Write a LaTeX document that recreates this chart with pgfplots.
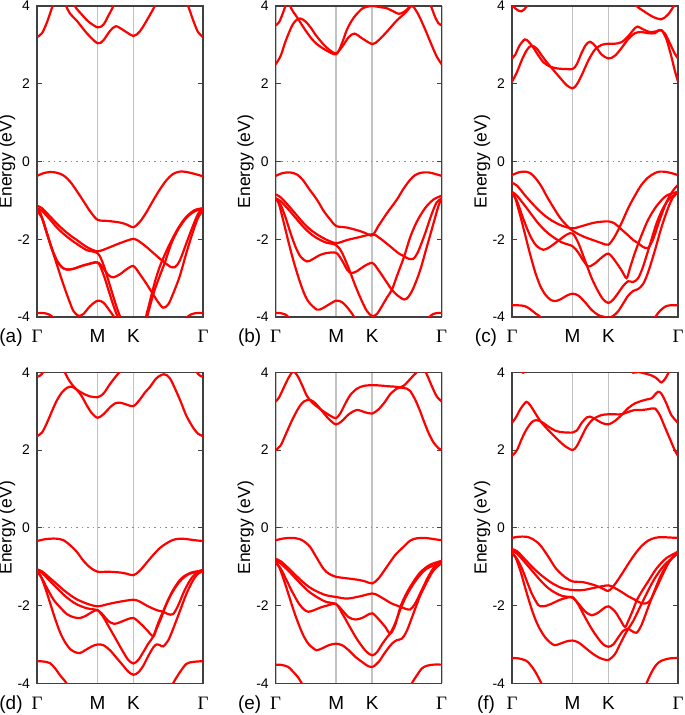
\documentclass[border=0pt]{standalone}
\usepackage{fontspec}
\setmainfont{Liberation Sans}
\newfontfamily\greekfont{Liberation Serif}
\usepackage{pgfplots}
\pgfplotsset{compat=1.18}

\definecolor{bandred}{RGB}{255,0,0}
\definecolor{symline}{RGB}{195,195,195}

\pgfplotsset{
  bands/.style={
    scale only axis, width=83bp, height=155.5bp, anchor=south west,
    xmin=0, xmax=100, ymin=-4, ymax=4,
    xtick={0,36.5,58.1,100},
    xticklabels={{\greekfont Γ},M,K,{\greekfont Γ}},
    ytick={-4,-2,0,2,4},
    tick align=inside,
    major tick length=2.5bp,
    major x tick style={draw=none},
    tick style={black!75, line width=0.5bp},
    xmajorgrids,
    major grid style={symline, line width=0.8bp},
    extra y ticks={0},
    extra y tick labels={},
    extra y tick style={ymajorgrids=true, major grid style={black!45, dotted, line width=0.4bp}},
    axis line style={black!75, line width=0.55bp},
    xticklabel style={font=\fontsize{9.5}{11}\selectfont, anchor=base, yshift=-13bp},
    yticklabel style={font=\fontsize{7}{8}\selectfont},
    /pgf/number format/assume math mode=true,
  },
  bd/.style={bandred, line width=1.1bp, smooth},
}

\newcommand\panellabels[2]{%
  \node[rotate=90, font=\fontsize{8.8}{10}\selectfont] at ([xshift=-15bp]#1.west) {Energy (eV)};
  \node[anchor=base, font=\fontsize{9.5}{11}\selectfont] at ([xshift=-13bp,yshift=-13bp]#1.south west) {#2};
}

\begin{document}
\begin{tikzpicture}

% ---------------- (a)
\begin{axis}[bands, name=pa, at={(18.5bp,199bp)}]
\addplot[bd] coordinates {(0,3.2)(3,3.3)(6,3.58)(9,3.95)(12,4.3)(14.5,4.4)(17,4.05)(20,3.8)(24,3.62)(30,3.3)(36.5,3.04)(40,3.12)(44,3.36)(47.5,3.48)(52,3.38)(58.1,3.23)(62,3.35)(66,3.62)(70,3.92)(74,4.25)(80,4.6)(86,4.4)(91,4.0)(94,3.64)(97,3.33)(100,3.2)};
\addplot[bd] coordinates {(14,5.0)(19,4.4)(22.8,4.0)(27,3.78)(31,3.6)(36.5,3.45)(40,3.52)(43,3.75)(46,4.0)(50,4.4)(54,4.8)};
\addplot[bd] coordinates {(0,-0.37)(4,-0.3)(8,-0.27)(12,-0.29)(16,-0.36)(20,-0.52)(24,-0.76)(28,-1.02)(32,-1.28)(36.5,-1.5)(43,-1.53)(50,-1.57)(54,-1.62)(58.1,-1.69)(62,-1.55)(66,-1.3)(70,-1.0)(74,-0.72)(78,-0.48)(82,-0.32)(86,-0.26)(90,-0.27)(95,-0.32)(100,-0.38)};
\addplot[bd] coordinates {(0,-1.14)(3,-1.2)(8,-1.42)(12,-1.6)(16,-1.76)(20,-1.9)(24,-2.02)(30,-2.2)(36.5,-2.31)(43,-2.22)(50,-2.1)(58.1,-1.99)(62,-2.07)(66,-2.2)(70,-2.35)(74,-2.5)(77,-2.6)(80,-2.7)(83,-2.72)(86,-2.55)(90,-2.1)(94,-1.65)(97,-1.35)(100,-1.2)};
\addplot[bd] coordinates {(0,-1.2)(3,-1.27)(8,-1.5)(12,-1.7)(16,-1.86)(20,-2.0)(24,-2.12)(30,-2.28)(36.5,-2.36)(40,-2.65)(44,-3.2)(48,-3.75)(51,-4.1)(55,-4.6)(58.1,-4.8)(62,-4.6)(65,-4.1)(68,-3.6)(71,-3.1)(74,-2.7)(78,-2.3)(82,-1.95)(86,-1.65)(90,-1.42)(95,-1.25)(100,-1.2)};
\addplot[bd] coordinates {(0,-1.26)(3,-1.45)(6,-1.85)(9,-2.25)(12,-2.55)(15,-2.72)(18,-2.78)(22,-2.76)(26,-2.7)(30,-2.65)(36.5,-2.6)(40,-2.75)(43,-2.92)(46,-2.98)(50,-2.9)(54,-2.77)(58.1,-2.69)(62,-2.9)(66,-3.15)(70,-3.42)(73,-3.62)(76,-3.76)(79,-3.68)(82,-3.4)(86,-2.95)(90,-2.35)(94,-1.8)(97,-1.45)(100,-1.26)};
\addplot[bd] coordinates {(0,-1.26)(3,-1.45)(6,-1.85)(9,-2.25)(12,-2.55)(15,-2.72)(18,-2.78)(22,-2.76)(26,-2.7)(30,-2.65)(36.5,-2.6)(40,-2.9)(43,-3.3)(46,-3.7)(49,-4.05)(53,-4.5)(58.1,-4.9)(62,-4.6)(66,-4.05)(70,-3.42)(73,-3.05)(77,-2.6)(81,-2.1)(85,-1.75)(90,-1.45)(95,-1.28)(100,-1.22)};
\addplot[bd] coordinates {(0,-1.2)(2,-1.32)(5,-1.72)(8,-2.12)(11,-2.52)(14,-2.92)(17,-3.3)(20,-3.65)(22,-3.85)(25,-3.97)(28,-3.92)(32,-3.72)(36.5,-3.58)(40,-3.63)(44,-3.85)(48,-4.1)(52,-4.4)};
\addplot[bd] coordinates {(0,-3.9)(4,-3.9)(7,-3.93)(10,-4.02)(13,-4.2)(16,-4.45)};
\addplot[bd] coordinates {(84,-4.45)(87,-4.2)(90,-4.02)(93,-3.93)(96,-3.9)(100,-3.9)};
\end{axis}
\panellabels{pa}{(a)}

% ---------------- (b)
\begin{axis}[bands, name=pb, at={(137.85bp,199bp)}]
\addplot[bd] coordinates {(0,2.5)(3,2.72)(6,3.1)(9.7,3.48)(12,3.62)(14.7,3.68)(18,3.6)(21,3.45)(24,3.26)(27,3.1)(30,2.96)(33,2.85)(36.4,2.78)(40,2.95)(44,3.2)(47.5,3.29)(52,3.17)(58.2,3.02)(62,3.12)(67,3.34)(73,3.63)(78,3.82)(82,4.0)(85,3.85)(87.5,3.64)(90.5,3.35)(93.5,3.04)(97,2.7)(100,2.5)};
\addplot[bd] coordinates {(5,4.6)(8.7,4.0)(12.7,3.72)(16,3.5)(18.8,3.32)(22,3.14)(24.8,3.02)(30,2.87)(36.4,2.76)(40,3.05)(43,3.4)(47,3.7)(52,3.93)(55,3.98)(58.2,4.0)(63,3.97)(67,3.94)(71,3.86)(74,3.8)(77,3.84)(80,3.95)(83,4.1)(86,4.35)};
\addplot[bd] coordinates {(0,3.5)(2,3.58)(4,3.78)(6,4.02)(8,4.3)};
\addplot[bd] coordinates {(90,4.35)(93.5,4.0)(96,3.72)(98,3.56)(100,3.5)};
\addplot[bd] coordinates {(0,-0.37)(4,-0.3)(8.7,-0.28)(13,-0.34)(16.8,-0.5)(20,-0.7)(24.8,-0.98)(29,-1.28)(33,-1.5)(36.4,-1.66)(43,-1.7)(50,-1.78)(54,-1.84)(58.2,-1.9)(62,-1.65)(67,-1.33)(73,-0.98)(77,-0.7)(81,-0.47)(84,-0.35)(87.5,-0.29)(92,-0.28)(96,-0.32)(100,-0.37)};
\addplot[bd] coordinates {(0,-0.85)(3,-0.92)(8,-1.15)(12,-1.35)(16,-1.55)(20,-1.72)(24,-1.85)(30,-2.0)(36.4,-2.1)(43,-2.02)(50,-1.95)(58.2,-1.87)(62,-1.95)(66,-2.08)(70,-2.22)(74,-2.36)(77.4,-2.44)(80,-2.5)(83,-2.5)(86,-2.3)(90,-1.85)(94,-1.35)(97,-1.05)(100,-0.95)};
\addplot[bd] coordinates {(0,-0.95)(3,-1.12)(6,-1.45)(9,-1.85)(12,-2.2)(15,-2.45)(18.8,-2.57)(22,-2.52)(26,-2.42)(30,-2.36)(36.4,-2.35)(40,-2.55)(43,-2.78)(45.5,-2.87)(49,-2.82)(53,-2.7)(58.2,-2.61)(62,-2.8)(66,-3.05)(70,-3.3)(73.5,-3.45)(77.4,-3.55)(80,-3.48)(83,-3.25)(87,-2.8)(91,-2.2)(95,-1.6)(98,-1.15)(100,-0.95)};
\addplot[bd] coordinates {(0,-0.95)(3,-1.02)(8,-1.25)(12,-1.45)(16,-1.65)(20,-1.82)(24,-1.95)(30,-2.08)(36.4,-2.15)(40,-2.35)(44,-2.75)(48,-3.2)(52,-3.6)(55,-3.85)(58.2,-3.98)(61,-3.92)(64,-3.72)(67,-3.5)(70,-3.3)(73,-2.95)(77.4,-2.44)(81,-1.95)(85,-1.55)(90,-1.2)(95,-0.98)(100,-0.88)};
\addplot[bd] coordinates {(0,-0.95)(2,-1.1)(5,-1.6)(8,-2.12)(11,-2.6)(14,-3.02)(17,-3.38)(20,-3.62)(24.8,-3.81)(28,-3.78)(32,-3.68)(36.4,-3.58)(40,-3.62)(44,-3.8)(48,-4.05)(52,-4.4)};
\addplot[bd] coordinates {(0,-3.9)(3,-3.9)(5.5,-3.93)(7.7,-4.0)(10,-4.15)(13,-4.4)};
\addplot[bd] coordinates {(87,-4.4)(90,-4.15)(92.5,-4.0)(95,-3.92)(97,-3.9)(100,-3.9)};
\end{axis}
\panellabels{pb}{(b)}

% ---------------- (c)
\begin{axis}[bands, name=pc, at={(256bp,199bp)}]
\addplot[bd] coordinates {(0,2.05)(3,2.3)(6,2.62)(9,2.87)(11.7,2.98)(15,2.9)(18,2.72)(22,2.5)(26,2.3)(30,2.1)(33,1.96)(36.5,1.88)(39,1.98)(42,2.22)(46,2.6)(50,2.88)(54,3.0)(58.1,3.03)(62,3.03)(66,3.07)(70,3.22)(73,3.38)(75.5,3.47)(79,3.4)(83,3.33)(87,3.35)(90,3.38)(93,3.15)(96,2.7)(98,2.35)(100,2.05)};
\addplot[bd] coordinates {(0,2.65)(2,2.75)(4.5,2.98)(7.7,3.14)(10,3.08)(13,2.92)(16,2.72)(19,2.55)(23,2.44)(28,2.39)(32,2.38)(36.5,2.38)(39,2.5)(42,2.8)(44.5,3.0)(47,3.08)(50,2.98)(54,2.75)(58.1,2.65)(62,2.72)(66,2.92)(70,3.15)(74,3.3)(78,3.33)(82,3.3)(86,3.3)(89,3.38)(92,3.3)(95,3.05)(98,2.78)(100,2.65)};
\addplot[bd] coordinates {(0,4.02)(2.5,3.92)(5.6,3.86)(8.7,3.98)(11,4.2)};
\addplot[bd] coordinates {(72,4.2)(75,4.0)(80,3.85)(85,3.72)(90,3.66)(94,3.78)(97.5,4.0)(100,4.15)};
\addplot[bd] coordinates {(0,-0.35)(4,-0.28)(7.7,-0.26)(11,-0.3)(14,-0.42)(17.7,-0.64)(21,-0.9)(25.8,-1.24)(29,-1.45)(32,-1.6)(36.5,-1.78)(43,-1.93)(50,-2.04)(54,-2.1)(58.1,-2.14)(62,-1.92)(66,-1.58)(70,-1.2)(74,-0.88)(78,-0.6)(82,-0.41)(86,-0.3)(89,-0.26)(93,-0.27)(97,-0.31)(100,-0.35)};
\addplot[bd] coordinates {(0,-0.55)(3,-0.62)(8,-0.88)(12,-1.07)(16,-1.25)(20,-1.4)(24,-1.52)(30,-1.65)(36.5,-1.72)(43,-1.65)(50,-1.57)(58.1,-1.54)(62,-1.6)(66,-1.75)(70,-1.9)(73,-2.02)(76,-2.1)(79,-2.2)(82,-2.22)(85,-2.0)(89,-1.5)(93,-1.05)(97,-0.75)(100,-0.6)};
\addplot[bd] coordinates {(0,-0.78)(3,-0.88)(8,-1.15)(12,-1.38)(16,-1.6)(20,-1.78)(24,-1.92)(30,-2.08)(36.5,-2.18)(40,-2.35)(43,-2.55)(46,-2.7)(50,-2.62)(54,-2.47)(58.1,-2.37)(62,-2.55)(66,-2.8)(69,-3.0)(71,-2.75)(74,-2.35)(78,-1.9)(82,-1.5)(87,-1.15)(93,-0.88)(100,-0.78)};
\addplot[bd] coordinates {(0,-0.8)(3,-1.02)(6,-1.38)(9,-1.72)(12,-2.0)(15,-2.18)(18.8,-2.27)(22,-2.22)(26,-2.1)(30,-1.97)(33,-1.88)(36.5,-1.85)(40,-2.1)(44,-2.55)(48,-3.0)(52,-3.35)(55,-3.55)(58.1,-3.64)(61,-3.55)(64,-3.38)(67,-3.2)(70,-3.08)(73,-3.1)(76,-3.0)(79,-2.7)(83,-2.15)(87,-1.6)(91,-1.2)(95,-0.95)(100,-0.8)};
\addplot[bd] coordinates {(0,-0.8)(2,-0.95)(5,-1.4)(8,-1.9)(11,-2.4)(14,-2.85)(17,-3.2)(20,-3.42)(23,-3.55)(25.8,-3.59)(29,-3.55)(33,-3.45)(36.5,-3.4)(40,-3.45)(44,-3.62)(48,-3.82)(52,-3.95)(55,-3.99)(58.1,-4.02)(61,-3.97)(64,-3.85)(67,-3.65)(70,-3.45)(73,-3.33)(76,-3.28)(79,-3.15)(82,-2.85)(86,-2.3)(90,-1.7)(94,-1.2)(97,-0.92)(100,-0.8)};
\addplot[bd] coordinates {(0,-3.7)(4,-3.7)(7.7,-3.72)(11,-3.8)(14.5,-3.92)(17.7,-4.02)(21,-4.3)};
\addplot[bd] coordinates {(83,-4.3)(86.3,-4.0)(89,-3.85)(92,-3.74)(95,-3.7)(100,-3.7)};
\end{axis}
\panellabels{pc}{(c)}

% ---------------- (d)
\begin{axis}[bands, name=pd, at={(18.5bp,15.85bp)}]
\addplot[bd] coordinates {(0,2.36)(3,2.45)(6,2.7)(9,3.0)(12,3.28)(15,3.48)(18,3.6)(20.8,3.63)(24,3.55)(27,3.38)(30,3.15)(33,2.95)(36.5,2.83)(40,2.92)(44,3.1)(47,3.2)(50,3.22)(54,3.17)(58.1,3.13)(62,3.3)(65,3.48)(68,3.62)(72,3.85)(76.5,3.95)(80,3.85)(84,3.5)(87,3.2)(90,2.88)(94,2.58)(97,2.42)(100,2.36)};
\addplot[bd] coordinates {(12,4.5)(16.8,4.0)(20,3.75)(23.8,3.56)(28,3.45)(32,3.38)(36.5,3.36)(40,3.45)(44,3.7)(48,3.92)(50,4.02)(54,4.3)};
\addplot[bd] coordinates {(0,3.88)(2,3.92)(4,4.02)(6,4.2)};
\addplot[bd] coordinates {(94,4.2)(96,4.02)(98,3.92)(100,3.88)};
\addplot[bd] coordinates {(0,-0.34)(4,-0.3)(8,-0.28)(12,-0.28)(16,-0.32)(20,-0.45)(24,-0.62)(28,-0.85)(32,-1.02)(36.5,-1.13)(43,-1.13)(50,-1.15)(54,-1.18)(58.1,-1.22)(62,-1.1)(66,-0.9)(70,-0.7)(74,-0.52)(78,-0.4)(82,-0.31)(86,-0.28)(90,-0.29)(95,-0.32)(100,-0.34)};
\addplot[bd] coordinates {(0,-1.07)(3,-1.12)(8,-1.3)(12,-1.45)(16,-1.6)(20,-1.73)(24,-1.84)(30,-1.95)(36.5,-2.02)(43,-1.96)(50,-1.9)(58.1,-1.85)(62,-1.9)(66,-2.0)(70,-2.08)(73,-2.13)(76,-2.16)(79,-2.22)(82,-2.22)(85,-2.0)(89,-1.6)(93,-1.3)(97,-1.13)(100,-1.08)};
\addplot[bd] coordinates {(0,-1.1)(3,-1.16)(8,-1.38)(12,-1.55)(16,-1.72)(20,-1.86)(24,-1.97)(30,-2.07)(36.5,-2.12)(40,-2.25)(43,-2.4)(46.5,-2.47)(50,-2.43)(54,-2.36)(58.1,-2.32)(62,-2.45)(66,-2.62)(70,-2.79)(72,-2.6)(75,-2.3)(78,-1.95)(82,-1.6)(87,-1.3)(93,-1.15)(100,-1.1)};
\addplot[bd] coordinates {(0,-1.12)(3,-1.3)(6,-1.55)(10,-1.85)(14,-2.05)(18,-2.22)(22,-2.3)(26,-2.32)(30,-2.25)(33,-2.17)(36.5,-2.12)(40,-2.3)(44,-2.6)(48,-2.9)(52,-3.2)(55,-3.4)(58.1,-3.49)(61,-3.4)(64,-3.2)(67,-2.98)(70,-2.8)(73,-2.45)(77,-2.05)(81,-1.7)(86,-1.38)(92,-1.18)(100,-1.12)};
\addplot[bd] coordinates {(0,-1.12)(2,-1.22)(5,-1.55)(8,-1.95)(11,-2.35)(14,-2.7)(17,-2.95)(20,-3.12)(23,-3.2)(26,-3.22)(29,-3.15)(33,-3.05)(36.5,-3.0)(40,-3.02)(44,-3.15)(48,-3.35)(52,-3.55)(55,-3.7)(58.1,-3.78)(61,-3.72)(64,-3.55)(67,-3.3)(70,-3.08)(72,-3.0)(74,-3.02)(76,-3.05)(79,-2.9)(82,-2.6)(86,-2.15)(90,-1.7)(94,-1.35)(97,-1.18)(100,-1.12)};
\addplot[bd] coordinates {(0,-3.43)(4,-3.44)(7.8,-3.48)(11,-3.62)(14,-3.8)(17.8,-4.0)(21,-4.3)};
\addplot[bd] coordinates {(79,-4.3)(82,-4.0)(86,-3.72)(90,-3.5)(94,-3.45)(100,-3.43)};
\end{axis}
\panellabels{pd}{(d)}

% ---------------- (e)
\begin{axis}[bands, name=pe, at={(137.85bp,15.85bp)}]
\addplot[bd] coordinates {(0,2.0)(3,2.12)(6,2.4)(10,2.78)(14,3.1)(17,3.25)(20.7,3.29)(24,3.2)(28,3.0)(32,2.8)(36.3,2.66)(40,2.75)(44,2.92)(49,3.03)(54,2.97)(58.2,2.94)(62,3.05)(66,3.25)(69,3.44)(73,3.58)(77,3.65)(80,3.78)(83,3.92)(86,4.05)(90,4.3)};
\addplot[bd] coordinates {(0,3.25)(2,3.35)(5,3.62)(8,3.88)(10.6,4.02)(13,3.92)(16,3.66)(18.7,3.4)(22,3.22)(26,3.08)(30,2.96)(33,2.88)(36.3,2.82)(39,2.95)(42,3.2)(45,3.42)(49,3.58)(53,3.65)(58.2,3.67)(63,3.66)(68,3.64)(72,3.63)(76,3.6)(79,3.58)(81,3.52)(84,3.3)(87,3.0)(89,2.77)(92,2.45)(95,2.2)(98,2.05)(100,2.0)};
\addplot[bd] coordinates {(86,4.4)(88.5,4.15)(91,3.95)(94,3.65)(97,3.38)(100,3.25)};
\addplot[bd] coordinates {(0,-0.32)(4,-0.28)(8,-0.26)(11,-0.26)(15,-0.3)(18,-0.38)(20.7,-0.49)(24,-0.72)(28.7,-1.05)(32,-1.18)(36.3,-1.26)(43,-1.3)(50,-1.34)(54,-1.38)(58.2,-1.43)(62,-1.3)(67,-1.0)(72,-0.7)(77,-0.49)(81,-0.33)(85,-0.27)(90,-0.26)(95,-0.29)(100,-0.32)};
\addplot[bd] coordinates {(0,-0.8)(3,-0.86)(8,-1.05)(12,-1.22)(16,-1.38)(20,-1.52)(24,-1.62)(30,-1.73)(36.3,-1.78)(43,-1.82)(50,-1.77)(58.2,-1.69)(62,-1.75)(66,-1.85)(70,-1.95)(75,-2.03)(78,-2.08)(81,-2.1)(84,-1.95)(88,-1.6)(92,-1.25)(96,-0.98)(100,-0.85)};
\addplot[bd] coordinates {(0,-0.85)(3,-0.92)(8,-1.12)(12,-1.3)(16,-1.48)(20,-1.64)(24,-1.76)(30,-1.9)(36.3,-1.96)(40,-2.12)(44,-2.3)(48,-2.36)(52,-2.32)(55,-2.25)(58.2,-2.2)(62,-2.35)(66,-2.55)(69,-2.72)(72,-2.5)(75,-2.05)(78,-1.75)(82,-1.45)(87,-1.15)(93,-0.95)(100,-0.85)};
\addplot[bd] coordinates {(0,-0.9)(3,-1.05)(6,-1.3)(10,-1.65)(14,-1.95)(17,-2.1)(19.7,-2.16)(23,-2.12)(27,-2.05)(31,-2.0)(36.3,-1.96)(40,-2.2)(44,-2.5)(48,-2.8)(52,-3.05)(55,-3.2)(58.2,-3.28)(61,-3.2)(64,-3.0)(67,-2.82)(69,-2.72)(72,-2.45)(76,-2.0)(80,-1.65)(85,-1.32)(91,-1.05)(100,-0.9)};
\addplot[bd] coordinates {(0,-0.9)(2,-1.0)(5,-1.35)(8,-1.75)(11,-2.15)(14,-2.5)(17,-2.8)(20,-3.0)(22.7,-3.1)(24.7,-3.15)(28,-3.1)(32,-3.02)(36.3,-2.98)(40,-3.02)(44,-3.15)(48,-3.32)(52,-3.45)(55,-3.54)(58.2,-3.58)(62,-3.45)(66,-3.2)(70,-2.98)(73,-2.89)(76,-2.85)(79,-2.65)(83,-2.2)(87,-1.75)(91,-1.4)(95,-1.1)(100,-0.9)};
\addplot[bd] coordinates {(0,-3.52)(4,-3.53)(7.6,-3.58)(10,-3.68)(13,-3.82)(15.7,-4.0)(19,-4.3)};
\addplot[bd] coordinates {(79,-4.3)(82,-4.0)(85,-3.8)(88,-3.62)(91,-3.55)(95,-3.52)(100,-3.52)};
\end{axis}
\panellabels{pe}{(e)}

% ---------------- (f)
\begin{axis}[bands, name=pf, at={(256bp,15.85bp)}]
\addplot[bd] coordinates {(0,1.85)(3,2.0)(6,2.3)(9,2.55)(12,2.72)(14.7,2.77)(18,2.72)(22,2.6)(26,2.5)(30,2.46)(36.5,2.45)(39,2.5)(42,2.7)(45,2.84)(47,2.86)(50,2.8)(54,2.7)(58.1,2.66)(62,2.75)(66,2.9)(70,3.08)(74,3.2)(77,3.25)(81,3.3)(84,3.33)(86,3.42)(88,3.5)(90,3.45)(93,3.2)(96,2.9)(100,2.7)};
\addplot[bd] coordinates {(0,2.7)(2.5,2.85)(5,3.05)(8.6,3.24)(11,3.15)(14,2.95)(17,2.75)(20,2.6)(24,2.42)(28,2.25)(32,2.1)(36.5,2.0)(39,2.1)(42,2.35)(45,2.6)(49,2.8)(54,2.9)(58.1,2.92)(62,2.92)(66,2.92)(70,2.98)(74,3.03)(78,3.03)(82,3.05)(86,3.07)(89,2.9)(92,2.6)(95,2.3)(98,2.0)(100,1.85)};
\addplot[bd] coordinates {(2,4.3)(6.6,3.99)(11,4.3)};
\addplot[bd] coordinates {(70,4.15)(73,3.99)(76,4.01)(80,3.97)(84,3.92)(87,3.85)(90,3.74)(92.5,3.85)(95,4.05)(98,4.3)};
\addplot[bd] coordinates {(0,-0.26)(4,-0.23)(8.6,-0.23)(12,-0.28)(16,-0.4)(18,-0.5)(22,-0.75)(26,-1.02)(30,-1.2)(33,-1.3)(36.5,-1.38)(43,-1.4)(50,-1.48)(54,-1.55)(58.1,-1.62)(62,-1.45)(66,-1.2)(70,-0.93)(74,-0.68)(78,-0.47)(82,-0.33)(86,-0.26)(90,-0.24)(95,-0.25)(100,-0.26)};
\addplot[bd] coordinates {(0,-0.55)(3,-0.6)(8,-0.82)(12,-1.0)(16,-1.16)(20,-1.3)(24,-1.42)(30,-1.55)(36.5,-1.6)(43,-1.6)(50,-1.54)(58.1,-1.48)(62,-1.55)(66,-1.65)(70,-1.76)(74,-1.85)(77,-1.92)(80,-1.95)(83,-1.88)(87,-1.55)(91,-1.18)(95,-0.85)(100,-0.6)};
\addplot[bd] coordinates {(0,-0.6)(3,-0.66)(8,-0.9)(12,-1.1)(16,-1.3)(20,-1.48)(24,-1.62)(30,-1.75)(36.5,-1.8)(40,-1.95)(44,-2.15)(48,-2.25)(52,-2.18)(55,-2.08)(58.1,-2.02)(62,-2.15)(65,-2.35)(68,-2.55)(70,-2.4)(73,-2.1)(75,-1.88)(78,-1.65)(82,-1.38)(87,-1.05)(93,-0.78)(100,-0.62)};
\addplot[bd] coordinates {(0,-0.65)(3,-0.8)(6,-1.05)(9,-1.38)(12,-1.7)(15.7,-1.98)(18,-2.02)(21,-2.0)(25,-1.93)(29,-1.85)(33,-1.8)(36.5,-1.78)(40,-1.98)(44,-2.3)(48,-2.6)(52,-2.85)(55,-3.0)(58.1,-3.06)(61,-3.0)(64,-2.82)(67,-2.65)(70,-2.6)(72,-2.65)(75,-2.7)(78,-2.5)(82,-2.05)(86,-1.6)(90,-1.2)(95,-0.85)(100,-0.65)};
\addplot[bd] coordinates {(0,-0.65)(2,-0.75)(5,-1.1)(8,-1.55)(11,-1.98)(14,-2.35)(17,-2.62)(20,-2.82)(23,-2.95)(25.7,-3.02)(29,-2.98)(33,-2.92)(36.5,-2.9)(40,-2.95)(44,-3.08)(48,-3.22)(52,-3.33)(55,-3.38)(58.1,-3.4)(62,-3.25)(65,-3.0)(68,-2.75)(70,-2.6)(73,-2.4)(77,-2.05)(81,-1.7)(86,-1.3)(92,-0.95)(100,-0.65)};
\addplot[bd] coordinates {(0,-3.35)(4,-3.36)(8.6,-3.42)(11,-3.52)(14,-3.7)(17.7,-4.0)(21,-4.3)};
\addplot[bd] coordinates {(78,-4.3)(81,-4.0)(84,-3.72)(87,-3.52)(90,-3.42)(95,-3.36)(100,-3.35)};
\end{axis}
\panellabels{pf}{(f)}

\pgfresetboundingbox
\useasboundingbox (0,0) rectangle (342.5bp,357.5bp);
\end{tikzpicture}
\end{document}
